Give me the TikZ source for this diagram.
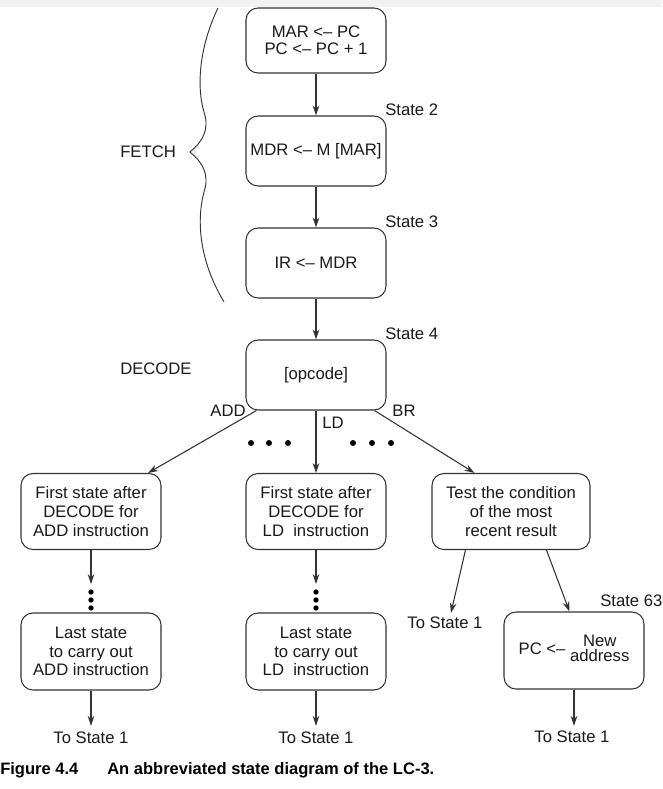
\documentclass[tikz,border=0pt]{standalone}
\usepackage{fontspec}
\setmainfont{Liberation Sans}
\usetikzlibrary{arrows.meta,calc}
\begin{document}
\begin{tikzpicture}[x=0.75pt,y=-0.75pt,
  every node/.style={font=\fontsize{12.5}{14}\selectfont, text=black!90},
  statebox/.style={draw=black!80, line width=0.8pt, rounded corners=9pt, align=center,
    minimum width=105pt, inner sep=2pt},
  flow/.style={draw=black!80, line width=0.8pt, -{Stealth[length=7.5pt,width=5pt]}},
  lbl/.style={anchor=west, inner sep=0pt},
  dot/.style={circle, fill=black, inner sep=0pt, minimum size=4.5pt},
  captionstyle/.style={anchor=west, inner sep=0pt, font=\bfseries\fontsize{12.4}{14}\selectfont, text=black}]
\useasboundingbox (0,0) rectangle (662,789);
\fill[black!5] (0,0) rectangle (662,7);

% FETCH states
\node[statebox, minimum height=48.75pt, font=\fontsize{12.5}{12.5}\selectfont] (b1) at (316,40.5) {MAR <– PC\\PC <– PC + 1};
\node[statebox, minimum height=52.5pt] (b2) at (316,151) {MDR <– M [MAR]};
\node[statebox, minimum height=52.5pt] (b3) at (316,263) {IR <– MDR};
\node[statebox, minimum height=52.5pt] (b4) at (316,375) {[opcode]};

\node[lbl] (s2) at (385,110) {State 2};
\node[lbl] (s3) at (385,222) {State 3};
\node[lbl] (s4) at (385,334) {State 4};

\node[lbl] (fetch) at (120,152) {FETCH};
\node[lbl] (decode) at (120,369) {DECODE};

\draw[black!80, line width=0.7pt] (218,8) .. controls (200,45) and (196,85) .. (204,112)
  .. controls (210,130) and (202,142) .. (190,152)
  .. controls (202,162) and (210,174) .. (204,192)
  .. controls (196,222) and (200,262) .. (224,302);

\draw[flow] (b1) -- (b2);
\draw[flow] (b2) -- (b3);
\draw[flow] (b3) -- (b4);

% second row
\node[statebox, minimum height=57pt] (add1) at (91,511.5) {First state after\\DECODE for\\ADD instruction};
\node[statebox, minimum height=57pt] (ld1) at (316,511.5) {First state after\\DECODE for\\LD\ \ instruction};
\node[statebox, minimum height=57pt, minimum width=118.5pt] (br) at (511,511.5) {Test the condition\\of the most\\recent result};

\draw[flow] ($(b4.south west)+(11,0)$) -- ($(add1.north)+(57,0)$);
\draw[flow] (b4.south) -- (ld1.north);
\draw[flow] ($(b4.south east)+(-12,0)$) -- ($(br.north west)+(43,0)$);

\node[inner sep=0pt] (addl) at (228,411) {ADD};
\node[inner sep=0pt] (ldl) at (333,423) {LD};
\node[inner sep=0pt] (brl) at (404,411) {BR};

\foreach \x [count=\i] in {251,269,288} {\node[dot] (dl\i) at (\x,443) {};}
\foreach \x [count=\i] in {353,372,391} {\node[dot] (dr\i) at (\x,443) {};}

% ADD column
\coordinate (adda) at (91,584);
\draw[flow] (add1.south) -- (adda);
\foreach \y [count=\i] in {592,600,608} {\node[dot, minimum size=4pt] (dva\i) at (91,\y) {};}
\node[statebox, minimum height=57.75pt] (add2) at (91,651.5) {Last state\\to carry out\\ADD instruction};
\node[inner sep=0pt] (t1) at (91,738) {To State 1};
\draw[flow] (add2.south) -- ($(t1.north)+(0,-6)$);

% LD column
\coordinate (lda) at (316,584);
\draw[flow] (ld1.south) -- (lda);
\foreach \y [count=\i] in {592,600,608} {\node[dot, minimum size=4pt] (dvl\i) at (316,\y) {};}
\node[statebox, minimum height=57.75pt] (ld2) at (316,651.5) {Last state\\to carry out\\LD\ \ instruction};
\node[inner sep=0pt] (t2) at (316,738) {To State 1};
\draw[flow] (ld2.south) -- ($(t2.north)+(0,-6)$);

% BR column
\node[inner sep=0pt] (t3) at (445,623) {To State 1};
\draw[flow] ($(br.south west)+(34,0)$) -- ($(t3.north)+(6,-4)$);
\node[statebox, minimum height=57.75pt] (s63) at (574,650.5) {PC <–\ \begin{tabular}[c]{@{}c@{}}New\\[-3pt]address\end{tabular}};
\node[lbl] (s63l) at (600,601) {State 63};
\draw[flow] ($(br.south west)+(115,0)$) -- ($(s63.north west)+(66,0)$);
\node[inner sep=0pt] (t4) at (572,737) {To State 1};
\draw[flow] (s63.south) -- ($(t4.north)+(2,-5)$);

% caption
\node[captionstyle] (fig) at (0,770) {Figure 4.4};
\node[captionstyle] (captext) at (107,770) {An abbreviated state diagram of the LC-3.};
\end{tikzpicture}
\end{document}
